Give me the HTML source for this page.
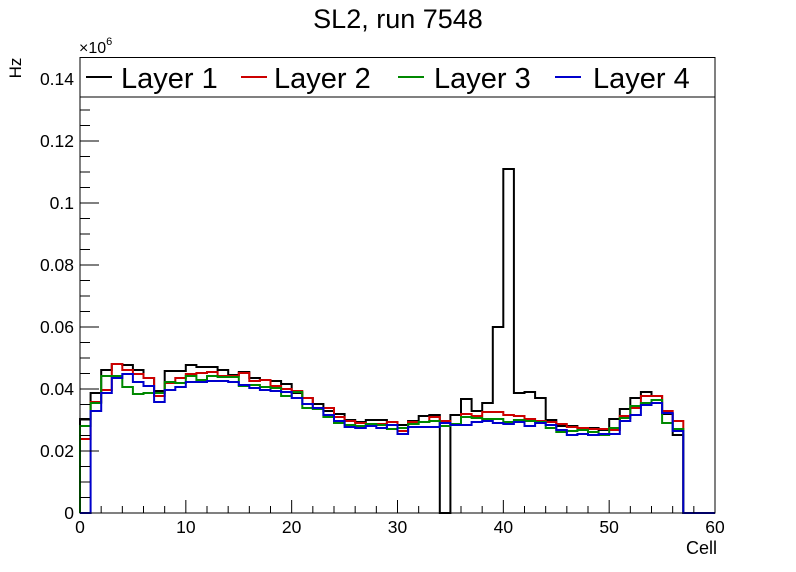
<!DOCTYPE html>
<html><head><meta charset="utf-8"><style>
html,body{margin:0;padding:0;background:#fff;}
svg{display:block;font-family:"Liberation Sans",sans-serif;}
</style></head><body>
<svg id="s" width="796" height="572" viewBox="0 0 796 572" xmlns="http://www.w3.org/2000/svg">
<rect width="796" height="572" fill="#fff"/>
<text x="398" y="28" font-size="27" text-anchor="middle">SL2, run 7548</text>
<g id="plot"></g>
<rect x="80" y="57.5" width="635" height="455.5" fill="none" stroke="#000" stroke-width="1"/>
<g id="ticks" stroke="#000" stroke-width="1"></g>
<g font-size="17.5" text-anchor="end" id="ylab"></g>
<g font-size="17.5" text-anchor="middle" id="xlab"></g>
<text x="79" y="53" font-size="16">×10<tspan dy="-8" font-size="11">6</tspan></text>
<text transform="translate(21,68) rotate(-90)" font-size="17" text-anchor="middle">Hz</text>
<text x="717" y="554" font-size="18" text-anchor="end">Cell</text>
<rect x="80" y="57.5" width="635" height="39.5" fill="#fff" stroke="#000" stroke-width="1"/>
<g font-size="29">
<line x1="86" y1="77" x2="112" y2="77" stroke="#000" stroke-width="2"/>
<text x="121" y="88">Layer 1</text>
<line x1="241" y1="77" x2="267" y2="77" stroke="#c00" stroke-width="2"/>
<text x="274" y="88">Layer 2</text>
<line x1="398" y1="77" x2="424" y2="77" stroke="#080" stroke-width="2"/>
<text x="434" y="88">Layer 3</text>
<line x1="555" y1="77" x2="581" y2="77" stroke="#00c" stroke-width="2"/>
<text x="593" y="88">Layer 4</text>
</g>
</svg>
<script>
var K=[419,393,370,364,365,370,378,391,371,371,365,367,367,370,375,372,378,380,381,384,393,398,404,411,414,420,422,420,420,422,425,421,416,415,513,415,399,411,403,327,169,393,392,398,420,426,426,428,428,430,419,409,398,392,396,414,435];
var R=[439,402,390,364,370,374,378,396,383,378,374,373,372,376,376,373,381,380,386,389,391,398,408,408,417,421,423,424,424,422,431,422,422,417,421,424,414,416,412,412,415,416,419,421,422,424,427,428,429,429,430,416,408,396,396,411,421];
var G=[426,403,376,376,387,394,393,393,382,383,376,380,376,377,377,386,385,387,388,396,392,408,409,417,423,425,426,424,425,429,428,424,422,421,426,424,417,418,419,419,422,420,421,422,428,432,431,430,432,435,428,418,406,403,400,423,429];
var B=[513,411,393,378,374,382,386,402,390,387,382,382,381,381,382,385,388,390,391,392,398,404,408,415,421,427,428,426,428,425,434,427,427,427,423,425,425,422,421,423,424,422,426,423,425,430,435,434,435,434,434,421,415,405,403,413,431];
var w=635/60,ns="http://www.w3.org/2000/svg";
function path(a,c){var d="M80,513";for(var i=0;i<a.length;i++){var x0=80+i*w,x1=80+(i+1)*w;d+=" L"+x0.toFixed(1)+","+a[i]+" L"+x1.toFixed(1)+","+a[i];}
d+=" L"+(80+a.length*w).toFixed(1)+",513 L715,513";var p=document.createElementNS(ns,"path");p.setAttribute("d",d);p.setAttribute("fill","none");p.setAttribute("stroke",c);p.setAttribute("stroke-width","2");document.getElementById("plot").appendChild(p);}
path(K,"#000");path(R,"#c00");path(G,"#080");path(B,"#00c");
var t=document.getElementById("ticks"),yl=document.getElementById("ylab"),xl=document.getElementById("xlab");
function ln(x1,y1,x2,y2){var l=document.createElementNS(ns,"line");l.setAttribute("x1",x1);l.setAttribute("y1",y1);l.setAttribute("x2",x2);l.setAttribute("y2",y2);t.appendChild(l);}
function tx(g,x,y,s){var e=document.createElementNS(ns,"text");e.setAttribute("x",x);e.setAttribute("y",y);e.textContent=s;g.appendChild(e);}
var py=3100;
for(var v=0;v<=0.1451;v+=0.005){var y=513-v*py;var maj=Math.abs(v/0.02-Math.round(v/0.02))<1e-6;ln(80,y,80+(maj?19:10),y);}
var labs=["0","0.02","0.04","0.06","0.08","0.1","0.12","0.14"];
for(var i=0;i<labs.length;i++){tx(yl,74,513-i*0.02*py+6,labs[i]);}
for(var c=0;c<=60;c+=2){var x=80+c*w;ln(x,513,x,513-(c%10==0?13:7));}
for(var c=0;c<=60;c+=10){tx(xl,80+c*w,533,String(c));}
</script>
</body></html>
